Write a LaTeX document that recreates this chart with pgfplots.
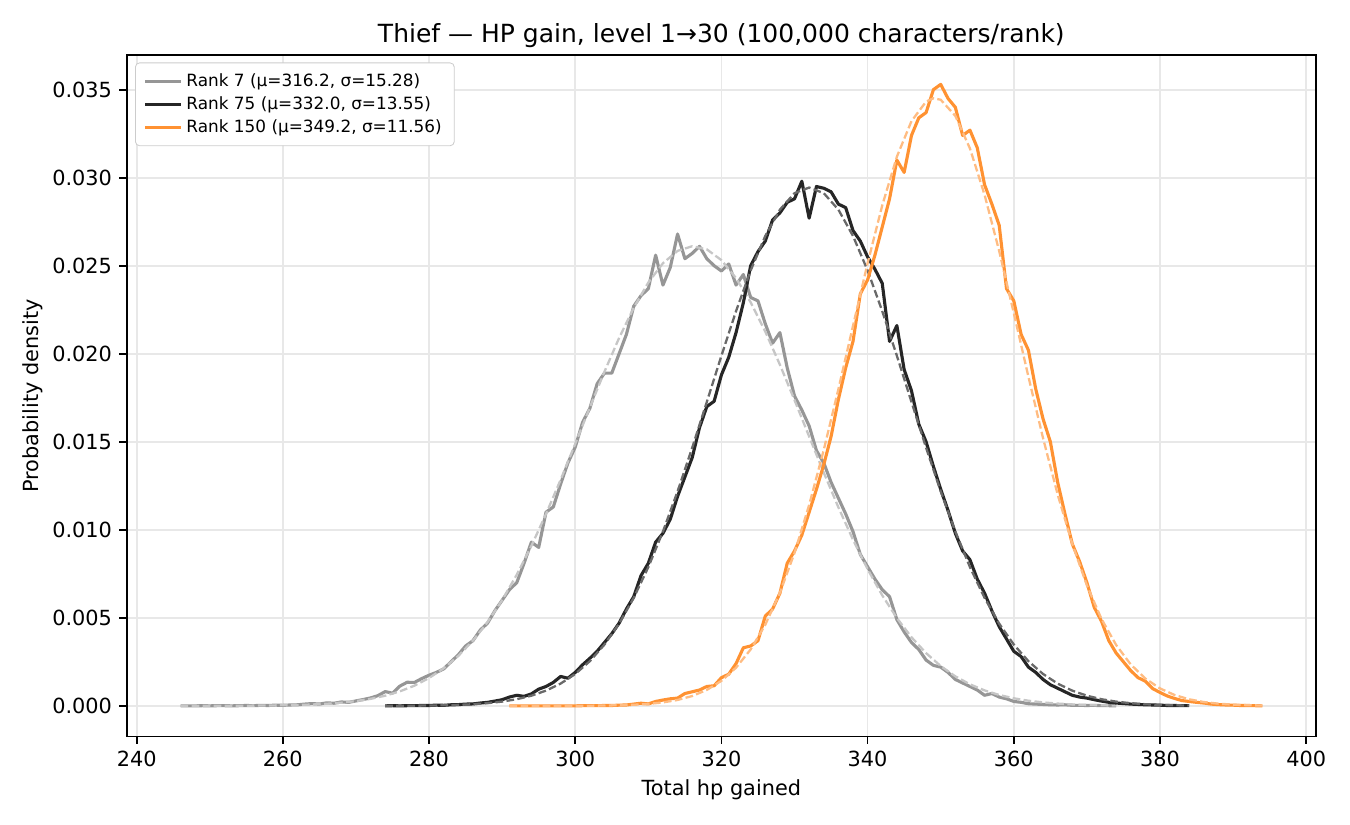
\documentclass[border=0pt]{standalone}
\usepackage{fontspec}
\setmainfont{DejaVu Sans}
\usepackage{pgfplots}
\usepackage{pgfplotstable}
\pgfplotsset{compat=1.18}

\definecolor{cgray}{RGB}{150,150,150}
\definecolor{cblack}{RGB}{38,38,38}
\definecolor{corange}{RGB}{255,146,50}
\definecolor{dgray}{RGB}{198,198,198}
\definecolor{dblack}{RGB}{105,105,105}
\definecolor{dorange}{RGB}{255,188,130}
\definecolor{gridc}{RGB}{232,232,232}

\pgfplotstableread{
x y
246 0.00000
247 0.00000
248 0.00000
249 0.00001
250 0.00000
251 0.00001
252 0.00001
253 0.00000
254 0.00001
255 0.00002
256 0.00001
257 0.00003
258 0.00002
259 0.00004
260 0.00003
261 0.00005
262 0.00006
263 0.00010
264 0.00013
265 0.00010
266 0.00017
267 0.00015
268 0.00022
269 0.00020
270 0.00028
271 0.00036
272 0.00045
273 0.00058
274 0.00081
275 0.00072
276 0.00112
277 0.00134
278 0.00133
279 0.00155
280 0.00174
281 0.00190
282 0.00210
283 0.00250
284 0.00290
285 0.00340
286 0.00370
287 0.00430
288 0.00470
289 0.00540
290 0.00600
291 0.00660
292 0.00700
293 0.00810
294 0.00930
295 0.00900
296 0.01100
297 0.01130
298 0.01260
299 0.01380
300 0.01470
301 0.01610
302 0.01690
303 0.01830
304 0.01890
305 0.01890
306 0.02000
307 0.02110
308 0.02270
309 0.02330
310 0.02370
311 0.02560
312 0.02390
313 0.02490
314 0.02680
315 0.02540
316 0.02570
317 0.02610
318 0.02540
319 0.02500
320 0.02470
321 0.02510
322 0.02390
323 0.02450
324 0.02320
325 0.02300
326 0.02170
327 0.02060
328 0.02120
329 0.01920
330 0.01760
331 0.01680
332 0.01590
333 0.01450
334 0.01380
335 0.01270
336 0.01180
337 0.01090
338 0.00990
339 0.00860
340 0.00790
341 0.00720
342 0.00660
343 0.00620
344 0.00490
345 0.00420
346 0.00360
347 0.00320
348 0.00260
349 0.00230
350 0.00220
351 0.00190
352 0.00150
353 0.00130
354 0.00110
355 0.00090
356 0.00060
357 0.00070
358 0.00050
359 0.00040
360 0.00025
361 0.00020
362 0.00012
363 0.00010
364 0.00008
365 0.00006
366 0.00005
367 0.00006
368 0.00003
369 0.00003
370 0.00002
371 0.00003
372 0.00001
373 0.00001
374 0.00000
}\rseven

\pgfplotstableread{
x y
246 0.0000007
250 0.0000022
254 0.0000066
258 0.0000185
262 0.0000484
264 0.0000762
266 0.000118
268 0.000180
270 0.000270
272 0.000398
274 0.000576
276 0.000820
278 0.001147
280 0.001578
282 0.002132
284 0.002836
286 0.003703
288 0.004755
290 0.006003
292 0.007452
294 0.009087
296 0.010898
298 0.012846
300 0.014885
302 0.016953
304 0.018985
306 0.020896
308 0.022609
310 0.024048
312 0.025141
314 0.025842
316 0.026107
318 0.025930
320 0.025316
322 0.024296
324 0.022920
326 0.021257
328 0.019376
330 0.017366
332 0.015298
334 0.013248
336 0.011277
338 0.009436
340 0.007763
342 0.006277
344 0.004990
346 0.003898
348 0.002995
350 0.002261
352 0.001678
354 0.001224
356 0.000878
358 0.000619
360 0.000430
362 0.000292
364 0.000196
366 0.000129
368 0.000083
370 0.000053
372 0.000033
374 0.000020
}\fseven

\pgfplotstableread{
x y
274 0.00000
275 0.00001
276 0.00000
277 0.00001
278 0.00001
279 0.00002
280 0.00002
281 0.00004
282 0.00003
283 0.00006
284 0.00007
285 0.00010
286 0.00011
287 0.00016
288 0.00020
289 0.00027
290 0.00035
291 0.00050
292 0.00060
293 0.00054
294 0.00068
295 0.00095
296 0.00110
297 0.00133
298 0.00167
299 0.00157
300 0.00190
301 0.00233
302 0.00270
303 0.00310
304 0.00360
305 0.00410
306 0.00470
307 0.00550
308 0.00620
309 0.00740
310 0.00810
311 0.00930
312 0.00980
313 0.01060
314 0.01190
315 0.01300
316 0.01410
317 0.01580
318 0.01700
319 0.01730
320 0.01880
321 0.01980
322 0.02120
323 0.02290
324 0.02500
325 0.02580
326 0.02640
327 0.02760
328 0.02800
329 0.02860
330 0.02880
331 0.02980
332 0.02770
333 0.02950
334 0.02940
335 0.02920
336 0.02850
337 0.02830
338 0.02700
339 0.02640
340 0.02550
341 0.02480
342 0.02400
343 0.02070
344 0.02160
345 0.01910
346 0.01790
347 0.01600
348 0.01500
349 0.01360
350 0.01230
351 0.01110
352 0.00980
353 0.00880
354 0.00830
355 0.00720
356 0.00640
357 0.00540
358 0.00450
359 0.00380
360 0.00310
361 0.00280
362 0.00220
363 0.00190
364 0.00150
365 0.00120
366 0.00100
367 0.00080
368 0.00060
369 0.00050
370 0.00044
371 0.00035
372 0.00027
373 0.00020
374 0.00016
375 0.00013
376 0.00010
377 0.00008
378 0.00006
379 0.00005
380 0.00004
381 0.00002
382 0.00002
383 0.00001
384 0.00001
}\rsevfive

\pgfplotstableread{
x y
274 0.0000031
276 0.0000058
278 0.0000105
280 0.0000187
282 0.0000325
284 0.0000555
286 0.0000926
288 0.000151
290 0.000241
292 0.000377
294 0.000577
296 0.000864
298 0.001264
300 0.001810
302 0.002538
304 0.003481
306 0.004672
308 0.006133
310 0.007881
312 0.009906
314 0.012183
316 0.014661
318 0.017263
320 0.019889
322 0.022421
324 0.024730
326 0.026691
328 0.028186
330 0.029121
332 0.029440
334 0.029121
336 0.028186
338 0.026691
340 0.024730
342 0.022421
344 0.019889
346 0.017263
348 0.014661
350 0.012183
352 0.009906
354 0.007881
356 0.006133
358 0.004672
360 0.003481
362 0.002538
364 0.001810
366 0.001264
368 0.000864
370 0.000577
372 0.000377
374 0.000241
376 0.000151
378 0.0000926
380 0.0000555
382 0.0000325
384 0.0000187
}\fsevfive

\pgfplotstableread{
x y
291 0.00000
292 0.00000
293 0.00000
294 0.00000
295 0.00000
296 0.00000
297 0.00000
298 0.00000
299 0.00000
300 0.00000
301 0.00001
302 0.00001
303 0.00001
304 0.00002
305 0.00002
306 0.00004
307 0.00005
308 0.00010
309 0.00015
310 0.00011
311 0.00025
312 0.00033
313 0.00040
314 0.00044
315 0.00070
316 0.00080
317 0.00090
318 0.00110
319 0.00114
320 0.00160
321 0.00180
322 0.00240
323 0.00330
324 0.00340
325 0.00370
326 0.00510
327 0.00550
328 0.00640
329 0.00810
330 0.00880
331 0.00970
332 0.01100
333 0.01230
334 0.01370
335 0.01530
336 0.01740
337 0.01920
338 0.02070
339 0.02340
340 0.02420
341 0.02560
342 0.02720
343 0.02880
344 0.03100
345 0.03030
346 0.03240
347 0.03340
348 0.03370
349 0.03500
350 0.03530
351 0.03450
352 0.03400
353 0.03240
354 0.03270
355 0.03170
356 0.02960
357 0.02850
358 0.02730
359 0.02370
360 0.02300
361 0.02110
362 0.02020
363 0.01800
364 0.01630
365 0.01500
366 0.01270
367 0.01090
368 0.00920
369 0.00820
370 0.00700
371 0.00560
372 0.00480
373 0.00370
374 0.00300
375 0.00250
376 0.00200
377 0.00160
378 0.00140
379 0.00098
380 0.00076
381 0.00056
382 0.00042
383 0.00030
384 0.00025
385 0.00020
386 0.00016
387 0.00010
388 0.00007
389 0.00005
390 0.00004
391 0.00002
392 0.00002
393 0.00001
394 0.00000
}\ronefifty

\pgfplotstableread{
x y
291 0.0000001
296 0.0000009
300 0.0000040
304 0.0000165
308 0.0000602
310 0.000110
312 0.000195
314 0.000335
316 0.000558
318 0.000904
320 0.001421
322 0.002167
324 0.003207
326 0.004607
328 0.006423
330 0.008690
332 0.011409
334 0.014539
336 0.017983
338 0.021583
340 0.025144
342 0.028426
344 0.031190
346 0.033213
348 0.034325
349 0.034510
350 0.034427
352 0.033513
354 0.031660
356 0.029026
358 0.025831
360 0.022307
362 0.018694
364 0.015205
366 0.012003
368 0.009197
370 0.006840
372 0.004935
374 0.003458
376 0.002349
378 0.001549
380 0.000991
382 0.000616
384 0.000372
386 0.000217
388 0.000124
390 0.0000682
392 0.0000364
394 0.0000189
}\fonefifty

\begin{document}
\begin{tikzpicture}
\path[use as bounding box] (0,0) rectangle (648pt,396pt);
\begin{axis}[
  at={(60.8pt,42.4pt)}, anchor=south west,
  scale only axis, width=570.9pt, height=327.2pt,
  xmin=238.63, xmax=401.35, ymin=-0.00175, ymax=0.03697,
  xtick={240,260,...,400},
  ytick={0,0.005,...,0.035},
  scaled y ticks=false,
  /pgf/number format/assume math mode=true,
  yticklabel style={/pgf/number format/.cd, fixed, fixed zerofill, precision=3},
  xticklabel style={/pgf/number format/.cd, fixed, precision=0},
  tick label style={font=\fontsize{10}{12}\selectfont},
  tick align=outside, major tick length=3.5pt,
  tick style={black, line width=0.8pt},
  axis line style={line width=0.8pt},
  xtick pos=bottom, ytick pos=left,
  grid=major, major grid style={line width=0.8pt, gridc},
  title={Thief — HP gain, level 1→30 (100,000 characters/rank)},
  title style={font=\fontsize{12}{14}\selectfont, at={(0.5,1)}, anchor=south, inner sep=0pt, yshift=-2.7pt},
  xlabel={Total hp gained}, ylabel={Probability density},
  every axis x label/.style={at={(axis description cs:0.5,0)}, anchor=center, yshift=-25.6pt, font=\fontsize{10}{12}\selectfont},
  every axis y label/.style={at={([xshift=-45pt]axis description cs:0,0.5)}, anchor=center, rotate=90, font=\fontsize{10}{12}\selectfont},
  legend style={at={(0,1)}, anchor=north west, xshift=4pt, yshift=-3.6pt, draw=black!20, rounded corners=2pt, fill=white, font=\fontsize{8.1}{9.7}\selectfont, row sep=-0.6pt, inner xsep=4pt, inner ysep=3pt},
  legend cell align=left,
  legend image code/.code={\draw[#1] (0pt,0pt) -- (17pt,0pt);},
]
\addplot[cgray, line width=1.5pt, line join=round] table {\rseven};
\addlegendentry{Rank 7 (μ=316.2, σ=15.28)}
\addplot[dgray, line width=1.1pt, dash pattern=on 3.7pt off 1.6pt, forget plot] table {\fseven};
\addplot[cblack, line width=1.5pt, line join=round] table {\rsevfive};
\addlegendentry{Rank 75 (μ=332.0, σ=13.55)}
\addplot[dblack, line width=1.1pt, dash pattern=on 3.7pt off 1.6pt, forget plot] table {\fsevfive};
\addplot[corange, line width=1.5pt, line join=round] table {\ronefifty};
\addlegendentry{Rank 150 (μ=349.2, σ=11.56)}
\addplot[dorange, line width=1.1pt, dash pattern=on 3.7pt off 1.6pt, forget plot] table {\fonefifty};
\end{axis}
\end{tikzpicture}
\end{document}
